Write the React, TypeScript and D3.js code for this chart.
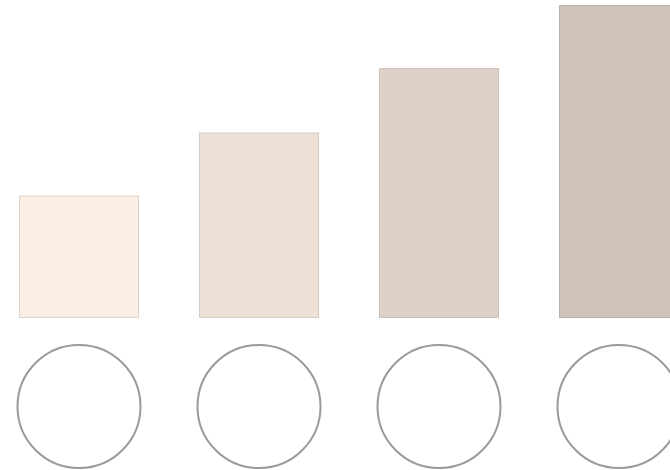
import React from "react";
import * as d3 from "d3";

const categories = ["A", "B", "C", "D"];
const values = [1.95, 2.96, 3.99, 5];
const fills = ["#fdeee3", "#ede0d5", "#ded1c7", "#cfc2b9"];
const strokes = ["#dcd3cc", "#d6cbc2", "#cdc0b6", "#bfb2a9"];

const W = 670;
const H = 470;

export default function App() {
  const x = d3
    .scaleBand<string>()
    .domain(categories)
    .range([19, 679])
    .paddingInner(1 / 3)
    .paddingOuter(0);
  const y = d3.scaleLinear().domain([0, 5]).range([317.5, 5]);
  const r = 61.5;
  const cy = 406.5;
  return (
    <svg
      width={W}
      height={H}
      style={{ position: "absolute", left: 0, top: 0, background: "#fff" }}
    >
      {categories.map((c, i) => (
        <g key={c}>
          <rect
            x={x(c)! + 0.5}
            y={y(values[i]) + 0.5}
            width={x.bandwidth() - 1}
            height={y(0) - y(values[i]) - 0.5}
            fill={fills[i]}
            stroke={strokes[i]}
            strokeWidth={1}
          />
          <circle
            cx={x(c)! + x.bandwidth() / 2}
            cy={cy}
            r={r}
            fill="#fff"
            stroke="#9a9a9a"
            strokeWidth={2}
          />
        </g>
      ))}
    </svg>
  );
}
